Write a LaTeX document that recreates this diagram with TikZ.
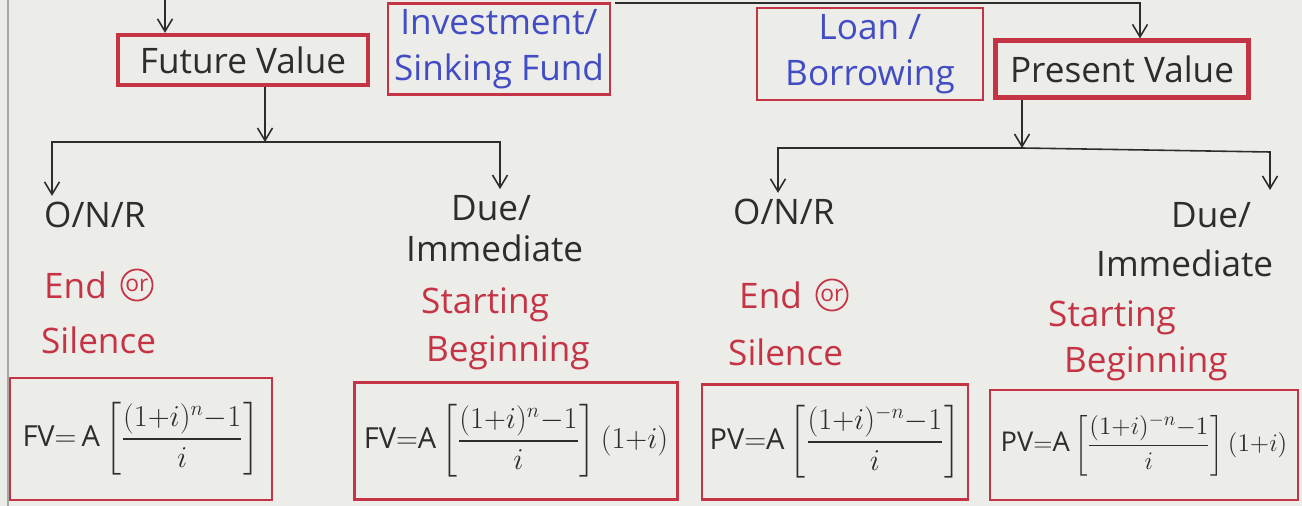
\documentclass[tikz,border=0pt]{standalone}
\usepackage{amsmath}
\usepackage{fontspec}
\setmainfont{Open Sans}
\usepackage{xcolor}
\usepackage{tikz}
\usetikzlibrary{arrows.meta,positioning}

\definecolor{penred}{RGB}{196,52,68}
\definecolor{penblue}{RGB}{66,76,196}
\definecolor{pencil}{RGB}{45,45,45}
\definecolor{paper}{RGB}{236,236,233}

\begin{document}
\begin{tikzpicture}[
  x=0.02cm, y=-0.02cm,
  hdr/.style={draw=penred, line width=2.4pt, text=pencil,
    font=\fontsize{20}{24}\selectfont, inner sep=2pt},
  note/.style={draw=penred, line width=1.4pt, text=penblue, align=center,
    font=\fontsize{20}{26}\selectfont},
  lbl/.style={text=pencil, anchor=west, font=\fontsize{20}{24}\selectfont},
  rlbl/.style={lbl, text=penred},
  ring/.style={draw=penred, circle, line width=1pt, inner sep=1pt,
    text=penred, font=\fontsize{13}{13}\selectfont},
  fbox/.style={draw=penred, line width=1.3pt, text=pencil, inner sep=1pt,
    font=\fontsize{16.5}{19}\selectfont},
  arr/.style={-{Straight Barb[length=2.5mm,width=3mm]}, pencil, line width=0.9pt}
]
  \fill[paper] (0,0) rectangle (1302,506);
  \useasboundingbox (0,0) rectangle (1302,506);
  \draw[gray!70, line width=0.8pt] (8,0) -- (8,506);

  \node[hdr, minimum width=5cm, minimum height=1cm] (fv) at (243,60) {Future Value};
  \node[note, minimum width=4.44cm, minimum height=1.76cm] (inv) at (499,49) {Investment/\\Sinking Fund};
  \node[note, minimum width=4.52cm, minimum height=1.84cm] (loan) at (870,54) {Loan /\\Borrowing};
  \node[hdr, minimum width=5.06cm, minimum height=1.14cm] (pv) at (1122,69) {Present Value};

  \coordinate (topL) at (165,0);
  \coordinate (topR) at (615,3);
  \coordinate (pvin) at (1140,3);
  \draw[arr] (topL) -- (topL |- fv.north);
  \draw[arr] (topR) -- (pvin) -- (pvin |- pv.north);

  \node[lbl] (onrF) at (38,215) {O/N/R};
  \node[rlbl] (endF) at (38,285) {End};
  \node[ring, right=1.5mm of endF] (orF) {or};
  \node[rlbl] (silF) at (35,340) {Silence};
  \node[lbl] (dueF) at (445,208) {Due/};
  \node[lbl] (immF) at (400,248) {Immediate};
  \node[rlbl] (startF) at (415,305) {Starting};
  \node[rlbl] (begF) at (420,353) {Beginning};

  \node[lbl] (onrP) at (727,212) {O/N/R};
  \node[rlbl] (endP) at (733,295) {End};
  \node[ring, right=1.5mm of endP] (orP) {or};
  \node[rlbl] (silP) at (722,352) {Silence};
  \node[lbl] (dueP) at (1165,215) {Due/};
  \node[lbl] (immP) at (1090,263) {Immediate};
  \node[rlbl] (startP) at (1042,318) {Starting};
  \node[rlbl] (begP) at (1058,364) {Beginning};

  \coordinate (fvsplit) at (265,142);
  \coordinate (fvl) at (52,142);
  \coordinate (fvr) at (500,142);
  \draw[arr] (fv.south -| fvsplit) -- (fvsplit);
  \draw[arr] (fvsplit) -- (fvl) -- (fvl |- onrF.north);
  \draw[arr] (fvsplit) -- (fvr) -- (fvr |- dueF.north);

  \coordinate (pvsplit) at (1022,148);
  \coordinate (pvl) at (778,148);
  \coordinate (pvr) at (1270,152);
  \coordinate (pvrend) at (1270,190);
  \draw[arr] (pv.south -| pvsplit) -- (pvsplit);
  \draw[arr] (pvsplit) -- (pvl) -- (pvl |- onrP.north);
  \draw[arr] (pvsplit) -- (pvr) -- (pvrend);

  \node[fbox, minimum width=5.24cm, minimum height=2.44cm] (ffv) at (141,439)
    {$\mathrm{FV}{=}\,\mathrm{A}\left[\dfrac{(1{+}i)^{n}{-}1}{i}\right]$};
  \node[fbox, minimum width=6.46cm, minimum height=2.34cm] (ffvd) at (516,441)
    {$\mathrm{FV}{=}\mathrm{A}\left[\dfrac{(1{+}i)^{n}{-}1}{i}\right](1{+}i)$};
  \node[fbox, minimum width=5.32cm, minimum height=2.3cm] (fpv) at (835,442)
    {$\mathrm{PV}{=}\mathrm{A}\left[\dfrac{(1{+}i)^{-n}{-}1}{i}\right]$};
  \node[fbox, font=\fontsize{15.5}{18}\selectfont, minimum width=6.16cm,
    minimum height=2.2cm] (fpvd) at (1144,445)
    {$\mathrm{PV}{=}\mathrm{A}\left[\dfrac{(1{+}i)^{-n}{-}1}{i}\right](1{+}i)$};
\end{tikzpicture}
\end{document}
